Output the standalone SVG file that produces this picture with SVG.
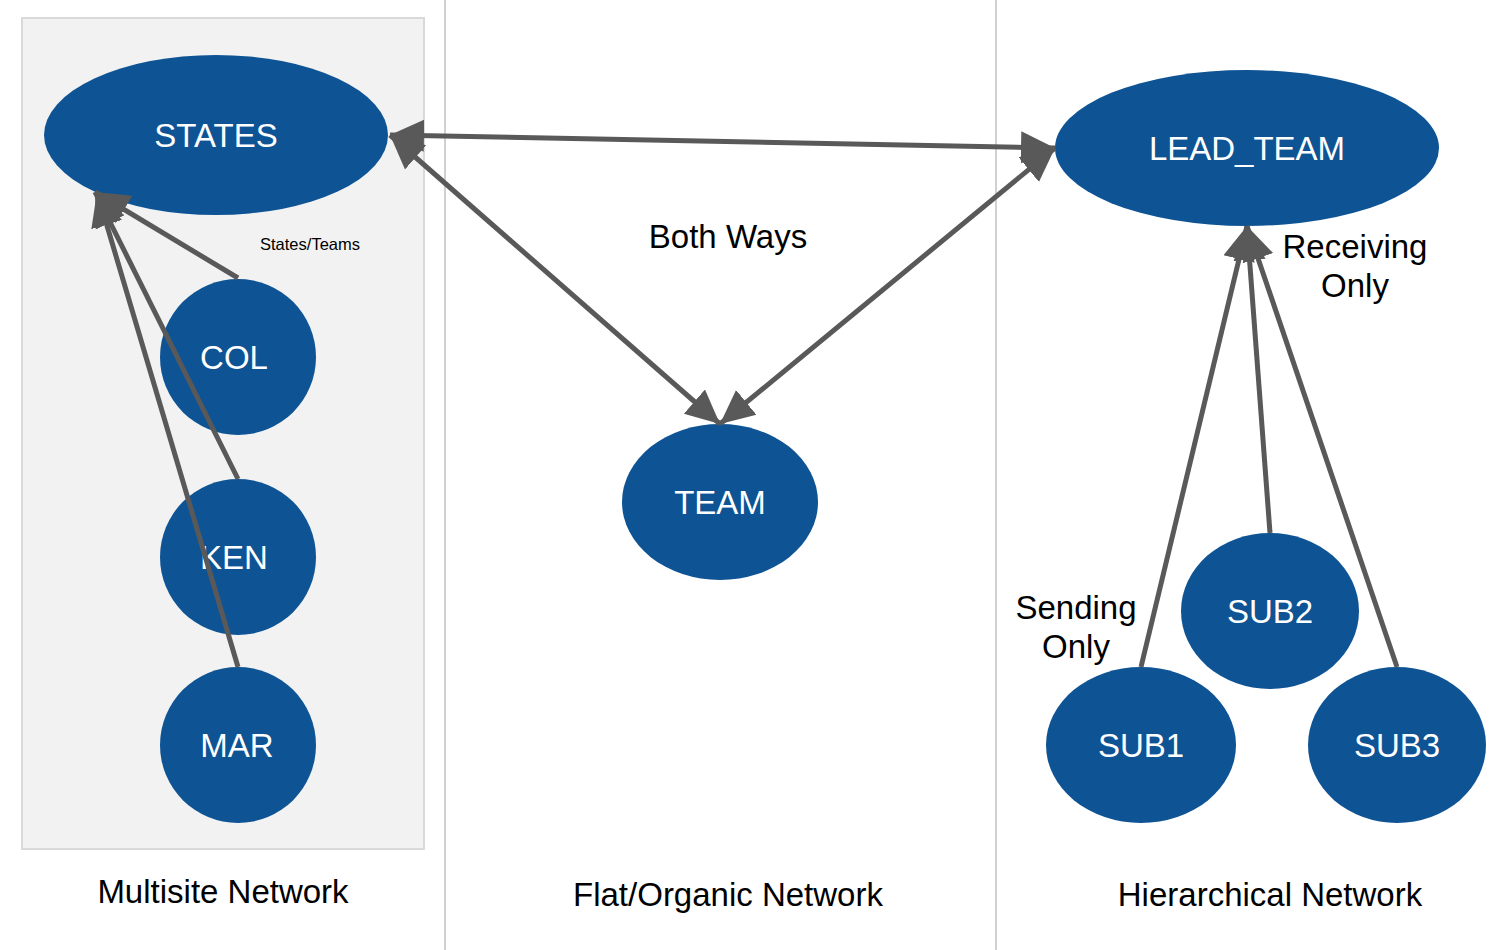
<svg xmlns="http://www.w3.org/2000/svg" width="1500" height="950" viewBox="0 0 1500 950">
<defs>
<style>
.node{fill:#0e5394}
.nt{fill:#ffffff;font-family:"Liberation Sans",Arial,sans-serif;font-size:33px;text-anchor:middle;dominant-baseline:central}
.lbl{fill:#000000;font-family:"Liberation Sans",Arial,sans-serif;font-size:33px;text-anchor:middle}
.small{fill:#000000;font-family:"Liberation Sans",Arial,sans-serif;font-size:16.5px;text-anchor:middle}
.con{stroke:#595959;stroke-width:5;fill:none}
.sep{stroke:#d0d0d0;stroke-width:2}
</style>
<marker id="ah" markerUnits="userSpaceOnUse" markerWidth="36" markerHeight="36" viewBox="0 0 36 36" refX="34" refY="18" orient="auto-start-reverse">
<path d="M0,2 L34,18 L0,34 Z" fill="#595959"/>
</marker>
</defs>
<rect width="1500" height="950" fill="#ffffff"/>
<rect x="22" y="18" width="402" height="831" fill="#f2f2f2" stroke="#d9d9d9" stroke-width="2"/>
<line class="sep" x1="445" y1="0" x2="445" y2="950"/>
<line class="sep" x1="996" y1="0" x2="996" y2="950"/>
<g id="nodes">
<g id="STATES"><ellipse class="node" cx="216" cy="135" rx="172" ry="80"/><text class="nt" x="216" y="135">STATES</text></g>
<g id="LEAD_TEAM"><ellipse class="node" cx="1247" cy="148" rx="192" ry="78"/><text class="nt" x="1247" y="148">LEAD_TEAM</text></g>
<g id="TEAM"><ellipse class="node" cx="720" cy="502" rx="98" ry="78"/><text class="nt" x="720" y="502">TEAM</text></g>
<g id="COL"><ellipse class="node" cx="238" cy="357" rx="78" ry="78"/><text class="nt" x="234" y="357">COL</text></g>
<g id="KEN"><ellipse class="node" cx="238" cy="557" rx="78" ry="78"/><text class="nt" x="234" y="557">KEN</text></g>
<g id="MAR"><ellipse class="node" cx="238" cy="745" rx="78" ry="78"/><text class="nt" x="237" y="745">MAR</text></g>
<g id="SUB1"><ellipse class="node" cx="1141" cy="745" rx="95" ry="78"/><text class="nt" x="1141" y="745">SUB1</text></g>
<g id="SUB2"><ellipse class="node" cx="1270" cy="611" rx="89" ry="78"/><text class="nt" x="1270" y="611">SUB2</text></g>
<g id="SUB3"><ellipse class="node" cx="1397" cy="745" rx="89" ry="78"/><text class="nt" x="1397" y="745">SUB3</text></g>
</g>
<g id="connectors">
<line class="con" x1="390" y1="135" x2="1055" y2="148" marker-start="url(#ah)" marker-end="url(#ah)"/>
<line class="con" x1="390" y1="135" x2="720" y2="424" marker-start="url(#ah)" marker-end="url(#ah)"/>
<line class="con" x1="1055" y1="148" x2="720" y2="424" marker-start="url(#ah)" marker-end="url(#ah)"/>
<line class="con" x1="238" y1="278" x2="95" y2="192" marker-end="url(#ah)"/>
<line class="con" x1="238" y1="479" x2="95" y2="192" marker-end="url(#ah)"/>
<line class="con" x1="238" y1="667" x2="97" y2="192" marker-end="url(#ah)"/>
<line class="con" x1="1141" y1="667" x2="1247" y2="226" marker-end="url(#ah)"/>
<line class="con" x1="1270" y1="533" x2="1247" y2="226" marker-end="url(#ah)"/>
<line class="con" x1="1397" y1="667" x2="1247" y2="226" marker-end="url(#ah)"/>
</g>
<g id="labels">
<text class="small" x="310" y="250">States/Teams</text>
<text class="lbl" x="728" y="248">Both Ways</text>
<text class="lbl" x="1355" y="258">Receiving</text>
<text class="lbl" x="1355" y="297">Only</text>
<text class="lbl" x="1076" y="619">Sending</text>
<text class="lbl" x="1076" y="658">Only</text>
<text class="lbl" x="223" y="903">Multisite Network</text>
<text class="lbl" x="728" y="906">Flat/Organic Network</text>
<text class="lbl" x="1270" y="906">Hierarchical Network</text>
</g>
</svg>
